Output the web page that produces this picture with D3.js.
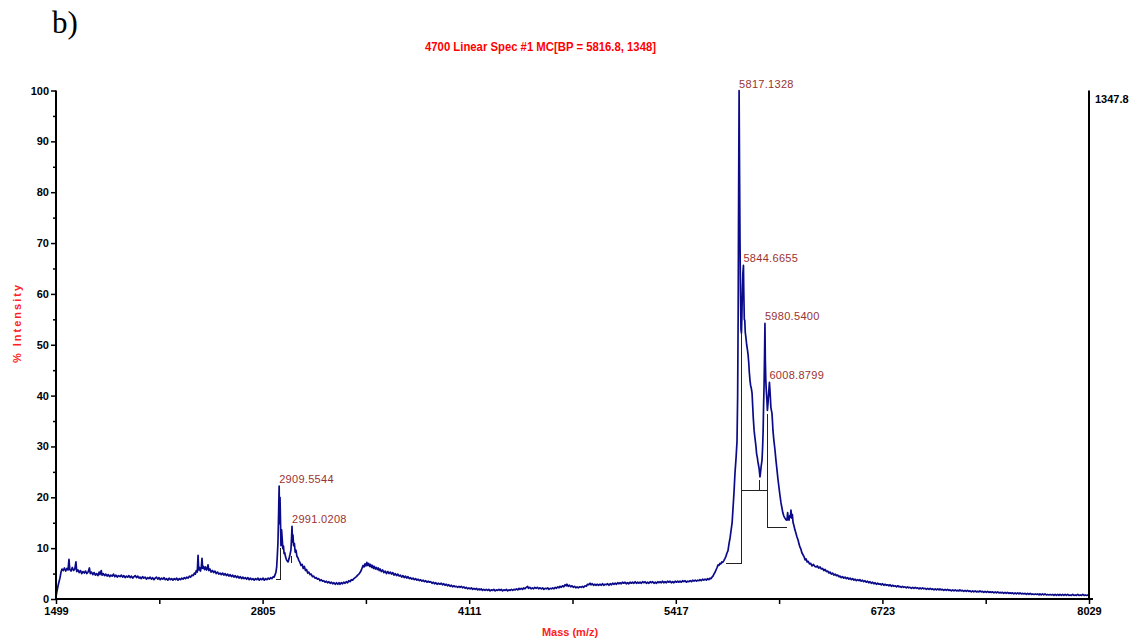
<!DOCTYPE html>
<html>
<head>
<meta charset="utf-8">
<script src="https://cdn.jsdelivr.net/npm/d3@7"></script>
<style>
  html, body { margin: 0; padding: 0; background: #fff; }
  svg { display: block; }
</style>
</head>
<body>
<svg id="chart" width="1137" height="642"></svg>
<script>
// ---- Spectrum: [m/z, % intensity] ----
const lowMassRegion = [
  [1499,0.4],[1505,1.5],[1512,2.6],[1518,3.4],[1524,4.1],[1530,5.2],[1537,5.9],[1545,5.6],[1552,6.1],[1560,5.5],
  [1568,6.0],[1575,5.7],[1581,7.8],[1586,5.8],[1594,5.5],[1602,6.2],[1610,5.6],[1618,5.9],[1625,7.3],[1630,5.4],
  [1638,5.7],[1646,5.2],[1654,5.6],[1662,5.0],[1670,5.4],[1678,5.1],[1686,5.5],[1694,5.0],[1702,5.3],[1710,6.1],
  [1716,5.0],[1724,5.3],[1732,4.8],[1740,5.2],[1748,4.7],[1756,5.0],[1764,4.6],[1772,5.3],[1777,4.8],[1785,5.6],
  [1790,4.7],[1798,5.0],[1806,4.6],[1814,4.9],[1822,4.5],[1830,4.8],[1838,4.4],[1846,4.7],[1854,4.5],[1862,4.9],
  [1870,4.4],[1878,4.7],[1886,4.3],[1894,4.6],[1904,4.4],[1912,4.7],[1920,4.3],[1928,4.6],[1936,4.2],[1944,4.5],
  [1952,4.3],[1960,4.6],[1968,4.2],[1976,4.5],[1984,4.1],[1992,4.4],[2000,4.6],[2008,4.2],[2016,4.5],[2024,4.1],
  [2030,4.3],[2038,4.0],[2046,4.4],[2054,4.1],[2062,4.3],[2070,3.9],[2078,4.2],[2086,4.0],[2094,4.3],[2102,3.9],
  [2110,4.2],[2118,3.8],[2126,4.1],[2134,4.3],[2142,3.9],[2150,4.2],[2158,3.8],[2166,4.1],[2174,3.9],[2182,4.2],
  [2190,3.8],[2198,4.0],[2206,3.7],[2214,4.1],[2222,3.8],[2230,4.0],[2238,3.7],[2246,4.0],[2254,3.8],[2262,4.1],
  [2270,3.7],[2278,4.0],[2286,3.8],[2294,4.1],[2302,3.9],[2310,4.2],[2318,4.0],[2326,4.3],[2334,4.1],[2342,4.5],
  [2350,4.3],[2358,4.7],[2366,4.6],[2374,5.1],[2380,4.9],[2386,5.6],[2392,5.3],[2397,8.6],[2401,5.7],[2406,6.2],
  [2412,5.5],[2418,6.4],[2422,8.0],[2426,6.0],[2432,6.4],[2438,5.8],[2444,6.3],[2450,5.7],[2455,6.0],[2460,6.7],
  [2465,5.6],[2472,5.9],[2480,5.3],[2488,5.6],[2496,5.2],[2504,5.5],[2512,5.0],[2520,5.3],[2528,4.9],[2536,5.1],
  [2544,4.8],[2552,5.1],[2560,4.7],[2568,5.0],[2576,4.6],[2584,4.9],[2592,4.5],[2600,4.8],[2608,4.4],[2616,4.7],
  [2624,4.3],[2632,4.6],[2640,4.2],[2648,4.5],[2656,4.1],[2664,4.4],[2672,4.0],[2680,4.3],[2688,4.0],[2696,4.2],
  [2704,3.9],[2712,4.2],[2720,3.8],[2728,4.1],[2736,3.8],[2744,4.0],[2752,3.7],[2760,4.0],[2768,3.8],[2776,4.1],
  [2784,3.7],[2792,4.0],[2800,3.8],[2808,4.1],[2816,3.7],[2824,4.0],[2832,3.8],[2840,4.1],[2848,3.9],[2856,4.2],
  [2864,4.0],[2872,4.4],[2878,4.3],[2884,4.8],[2889,5.2],[2894,6.3],[2898,8.5],[2902,11.0],[2906,16.5],[2909.6,22.2],
  [2912,14.8],[2915,20.0],[2918,15.5],[2921,10.5],[2925,13.6],[2929,11.8],[2933,9.9],[2937,10.4],[2941,8.9],[2945,9.1],
  [2950,8.3],[2955,7.8],[2960,7.5],[2966,7.3],[2972,7.9],[2978,8.7],[2984,9.6],[2988,12.0],[2991,14.3],[2994,11.2],
  [2997,12.6],[3001,10.5],[3006,10.9],[3011,9.2],[3016,9.6],[3022,8.4],[3028,8.1],[3034,7.6],[3041,7.2],[3048,6.6],
  [3055,6.8],[3062,6.0],[3069,6.4],[3076,5.6],[3083,5.8],[3090,5.1],[3097,5.3],[3105,4.8],[3112,4.9],[3120,4.4],
  [3128,4.5],[3136,4.1],[3144,4.2],[3152,3.9],[3160,4.0],[3168,3.6],[3176,3.8],[3184,3.5],[3192,3.6],[3200,3.3],
  [3208,3.5],[3216,3.2],[3224,3.4],[3232,3.1],[3240,3.3],[3248,3.0],[3256,3.2],[3264,2.9],[3272,3.2],[3280,2.9],
  [3288,3.2],[3294,2.9],[3302,3.2],[3310,3.0],[3318,3.3],[3326,3.1],[3334,3.4],[3342,3.2],[3350,3.6],[3358,3.4],
  [3366,3.8],[3374,3.7],[3382,4.0],[3390,4.2],[3398,4.4],[3406,4.7],[3414,4.9],[3421,5.2],[3428,5.6],[3434,6.1],
  [3440,6.6],[3446,6.3],[3452,6.9],[3458,6.5],[3464,7.2],[3470,6.6],[3476,7.0],[3482,6.4],[3488,6.8],[3494,6.2],
  [3500,6.6],[3506,6.0],[3512,6.4],[3518,5.9],[3524,6.2],[3530,5.8],[3536,6.1],[3542,5.6],[3548,5.9],[3556,5.4],
  [3564,5.7],[3572,5.2],[3580,5.5],[3588,5.0],[3596,5.4],[3604,5.0],[3612,5.3],[3620,4.9],[3628,5.2],[3636,4.7],
  [3644,5.0],[3652,4.6],[3660,4.9],[3668,4.5],[3676,4.7],[3684,4.3],[3692,4.6],[3700,4.2],[3708,4.5],[3716,4.1],
  [3724,4.4],[3732,4.0],[3740,4.2],[3748,3.9],[3756,4.1],[3764,3.8],[3772,4.0],[3780,3.7],[3788,3.9],[3796,3.6]
];

const midRegion = [
  [3804,3.8],[3812,3.5],[3820,3.7],[3828,3.4],[3836,3.6],[3844,3.3],[3852,3.5],[3860,3.3],[3868,3.4],[3876,3.1],
  [3884,3.3],[3892,3.0],[3900,3.2],[3908,2.9],[3916,3.1],[3926,2.9],[3934,3.1],[3942,2.8],[3950,3.0],[3958,2.7],
  [3966,2.9],[3974,2.6],[3982,2.8],[3990,2.5],[3998,2.7],[4006,2.4],[4014,2.6],[4022,2.4],[4030,2.5],[4038,2.3],
  [4046,2.5],[4053,2.3],[4061,2.5],[4069,2.2],[4077,2.4],[4085,2.1],[4093,2.3],[4101,2.0],[4109,2.2],[4117,2.0],
  [4125,2.2],[4133,1.9],[4141,2.1],[4149,1.9],[4157,2.1],[4165,1.8],[4173,2.0],[4179,1.8],[4187,2.0],[4195,1.7],
  [4203,1.9],[4211,1.7],[4219,1.9],[4227,1.7],[4235,1.9],[4243,1.6],[4251,1.8],[4259,1.7],[4267,1.9],[4275,1.6],
  [4283,1.8],[4291,1.7],[4299,1.9],[4306,1.7],[4314,1.9],[4322,1.6],[4330,1.8],[4338,1.7],[4346,1.9],[4354,1.6],
  [4362,1.8],[4370,1.7],[4378,1.9],[4386,1.7],[4394,1.9],[4402,1.8],[4410,2.0],[4418,1.8],[4426,2.1],[4432,1.9],
  [4440,2.1],[4448,1.9],[4456,2.2],[4464,2.0],[4472,2.3],[4480,2.5],[4486,2.1],[4494,2.3],[4502,2.0],[4510,2.2],
  [4518,2.0],[4526,2.3],[4534,2.1],[4542,2.3],[4550,2.0],[4559,2.2],[4567,2.0],[4575,2.2],[4583,1.9],[4591,2.1],
  [4599,2.0],[4607,2.2],[4615,1.9],[4623,2.1],[4631,2.0],[4639,2.2],[4647,2.0],[4655,2.3],[4663,2.1],[4671,2.4],
  [4679,2.2],[4685,2.5],[4693,2.3],[4701,2.6],[4709,2.4],[4717,2.8],[4725,2.6],[4729,2.9],[4737,2.5],[4745,2.7],
  [4753,2.4],[4761,2.6],[4769,2.3],[4777,2.5],[4785,2.2],[4793,2.4],[4801,2.2],[4811,2.4],[4819,2.3],[4827,2.5],
  [4835,2.3],[4843,2.6],[4851,2.5],[4859,2.9],[4867,2.8],[4875,3.1],[4881,2.8],[4889,3.0],[4897,2.7],[4905,2.9],
  [4913,2.7],[4921,2.9],[4929,2.7],[4938,2.9],[4946,2.7],[4954,3.0],[4962,2.7],[4970,2.9],[4978,2.8],[4986,3.0],
  [4994,2.7],[5002,3.0],[5010,2.8],[5018,3.1],[5026,2.9],[5034,3.1],[5042,2.9],[5050,3.2],[5058,3.0],[5064,3.2],
  [5072,3.0],[5080,3.3],[5088,3.1],[5096,3.3],[5104,3.0],[5112,3.2],[5120,3.0],[5128,3.3],[5136,3.1],[5144,3.3],
  [5152,3.1],[5160,3.4],[5168,3.1],[5176,3.3],[5184,3.1],[5191,3.3],[5199,3.1],[5207,3.4],[5215,3.2],[5223,3.4],
  [5231,3.1],[5239,3.3],[5247,3.1],[5255,3.4],[5263,3.2],[5271,3.4],[5279,3.1],[5287,3.3],[5295,3.1],[5303,3.4],
  [5311,3.2],[5317,3.4],[5325,3.2],[5333,3.5],[5341,3.2],[5349,3.4],[5357,3.2],[5365,3.5],[5373,3.3],[5381,3.5],
  [5389,3.2],[5397,3.4],[5405,3.2],[5413,3.5],[5421,3.3],[5429,3.5],[5437,3.3],[5444,3.5],[5452,3.3],[5460,3.6],
  [5468,3.4],[5476,3.6],[5484,3.3],[5492,3.5],[5500,3.4],[5508,3.6],[5516,3.4],[5524,3.7],[5532,3.5],[5540,3.7],
  [5548,3.5],[5556,3.7],[5564,3.6],[5570,3.8],[5578,3.6],[5586,3.9],[5594,3.7],[5602,3.9],[5610,3.7],[5618,4.0],
  [5626,3.8],[5634,4.1],[5640,4.0]
];

const mainCluster = [
  [5646,4.3],[5652,4.5],[5658,4.9],[5664,5.2],[5671,5.7],[5678,6.2],[5684,6.7],[5690,6.6],[5696,7.0],[5702,6.9],
  [5708,7.3],[5714,7.2],[5720,7.5],[5728,8.0],[5734,8.4],[5740,9.0],[5747,9.5],[5754,11.0],[5760,12.0],[5766,13.4],
  [5773,15.0],[5779,18.0],[5785,21.0],[5791,24.7],[5798,27.8],[5804,31.0],[5808,40],[5811,55],[5814,78],[5817.13,100],
  [5820,84],[5823,70],[5826,60],[5829,53],[5832,52.3],[5835,56],[5838,61],[5841,64],[5844.67,65.6],[5847,60],
  [5850,55],[5853,54.8],[5856,52.5],[5860,51.5],[5865,50],[5870,49],[5874,48],[5878,46.5],[5882,44.5],[5886,43],
  [5890,42],[5894,41.5],[5899,40.5],[5903,38],[5907,35.5],[5912,33.2],[5916,32],[5920,31],[5924,29.9],[5928,28.5],
  [5932,27.9],[5936,27],[5940,26.3],[5944,25.6],[5949,24],[5953,25],[5957,26.2],[5962,27.3],[5966,30],[5969,33],
  [5972,38],[5975,42],[5978,48],[5980.54,54.2],[5983,47],[5986,43],[5989,41],[5993,39],[5996,37.1],[6000,38.5],
  [6004,40.5],[6008.88,42.6],[6012,41.2],[6015,39.5],[6018,37.7],[6022,37],[6025,36.5],[6028,35],[6031,33.2],[6037,31.2],
  [6044,29.3],[6050,27.3],[6057,25.3],[6063,23.5],[6069,22],[6075,20.5],[6082,18.9],[6088,17.9],[6094,16.9],[6100,16.3],
  [6107,15.9],[6113,15.6],[6120,15.5],[6124,17.0],[6128,15.8],[6133,15.5],[6138,16.4],[6142,16.1],[6145,17.5],[6150,15.9],
  [6154,16.6],[6158,15.1],[6164,14.4],[6170,13.6],[6177,12.9],[6183,12.2],[6190,11.6],[6196,10.8],[6202,10.2],[6208,9.8],
  [6214,9.1],[6221,8.7],[6228,8.3],[6234,7.7],[6240,7.9],[6247,7.3],[6254,7.4],[6262,6.9],[6270,7.0],[6278,6.5],
  [6286,6.8]
];

const highMassTail = [
  [6297,6.4],[6304,6.3],[6312,6.5],[6320,6.1],[6329,6.3],[6337,5.9],[6345,6.0],[6353,5.6],[6361,5.8],[6369,5.4],
  [6377,5.5],[6385,5.1],[6392,5.3],[6400,4.9],[6408,5.1],[6416,4.7],[6424,4.9],[6432,4.6],[6440,4.7],[6448,4.4],
  [6455,4.5],[6463,4.2],[6471,4.4],[6479,4.1],[6487,4.3],[6495,4.0],[6503,4.2],[6511,3.9],[6519,4.1],[6527,3.8],
  [6535,4.0],[6543,3.7],[6551,3.9],[6559,3.6],[6567,3.8],[6575,3.6],[6581,3.8],[6589,3.5],[6597,3.7],[6605,3.4],
  [6613,3.6],[6621,3.3],[6629,3.5],[6637,3.2],[6645,3.4],[6653,3.1],[6661,3.3],[6669,3.0],[6677,3.2],[6685,2.9],
  [6693,3.1],[6701,2.9],[6708,3.0],[6716,2.8],[6724,3.0],[6732,2.7],[6740,2.9],[6748,2.7],[6756,2.8],[6764,2.6],
  [6772,2.8],[6780,2.5],[6788,2.7],[6796,2.5],[6804,2.6],[6812,2.4],[6820,2.6],[6828,2.4],[6834,2.5],[6842,2.3],
  [6850,2.5],[6858,2.3],[6866,2.4],[6874,2.2],[6882,2.4],[6890,2.2],[6898,2.3],[6906,2.1],[6914,2.3],[6922,2.1],
  [6930,2.3],[6938,2.1],[6946,2.2],[6954,2.0],[6961,2.2],[6969,2.0],[6977,2.2],[6985,2.0],[6993,2.1],[7001,1.9],
  [7009,2.1],[7017,1.9],[7025,2.1],[7033,1.9],[7041,2.0],[7049,1.8],[7057,2.0],[7065,1.8],[7073,2.0],[7081,1.8],
  [7087,2.0],[7095,1.8],[7103,1.9],[7111,1.7],[7119,1.9],[7127,1.7],[7135,1.9],[7143,1.7],[7151,1.8],[7159,1.6],
  [7167,1.8],[7175,1.6],[7183,1.8],[7191,1.6],[7199,1.7],[7207,1.6],[7213,1.8],[7221,1.6],[7229,1.7],[7237,1.5],
  [7245,1.7],[7253,1.5],[7261,1.7],[7269,1.5],[7277,1.6],[7285,1.4],[7293,1.6],[7301,1.4],[7309,1.6],[7317,1.4],
  [7325,1.5],[7333,1.4],[7340,1.6],[7348,1.4],[7356,1.5],[7364,1.3],[7372,1.5],[7380,1.3],[7388,1.5],[7396,1.3],
  [7404,1.4],[7412,1.3],[7420,1.4],[7428,1.2],[7436,1.4],[7444,1.2],[7452,1.4],[7460,1.2],[7466,1.3],[7474,1.2],
  [7482,1.3],[7490,1.1],[7498,1.3],[7506,1.1],[7514,1.3],[7522,1.1],[7530,1.2],[7538,1.1],[7546,1.2],[7554,1.0],
  [7562,1.2],[7570,1.0],[7578,1.2],[7586,1.0],[7593,1.2],[7601,1.0],[7609,1.1],[7617,1.0],[7625,1.1],[7633,0.9],
  [7641,1.1],[7649,0.9],[7657,1.1],[7665,0.9],[7673,1.0],[7681,0.9],[7689,1.0],[7697,0.9],[7705,1.0],[7713,0.8],
  [7719,1.0],[7727,0.8],[7735,1.0],[7743,0.8],[7751,1.0],[7759,0.8],[7767,0.9],[7775,0.8],[7783,0.9],[7791,0.8],
  [7799,0.9],[7807,0.7],[7815,0.9],[7823,0.7],[7831,0.9],[7839,0.7],[7846,0.9],[7854,0.7],[7862,0.9],[7870,0.7],
  [7878,0.9],[7886,0.7],[7894,0.9],[7902,0.7],[7910,0.8],[7918,0.7],[7926,0.9],[7934,0.7],[7942,0.8],[7950,0.7],
  [7958,0.9],[7966,0.7],[7974,0.8],[7982,0.7],[7990,0.9],[7998,0.7],[8006,0.8],[8014,0.7],[8022,0.8],[8029,0.8]
];

// ---- Labelled peaks ----
const peakMz     = [2909.5544, 2991.0208, 5817.1328, 5844.6655, 5980.5400, 6008.8799];
const peakPct    = [22.2, 14.3, 100, 65.6, 54.2, 42.6];
const peakLabels = ["2909.5544", "2991.0208", "5817.1328", "5844.6655", "5980.5400", "6008.8799"];

// ---- Peak integration brackets: polylines of [m/z, %] ----
const integrationMarks = [
  [[2890, 3.9], [2918, 3.9], [2918, 10.0]],
  [[2985, 7.0], [2985, 8.4]],
  [[5732, 6.9], [5834, 6.9], [5834, 52.3]],
  [[5834, 21.4], [5996, 21.4]],
  [[5949, 21.4], [5949, 23.4]],
  [[5996, 36.4], [5996, 14.0], [6122, 14.0]]
];

// ---- Axes ----
const massTicks = [1499, 2152, 2805, 3458, 4111, 4764, 5417, 6070, 6723, 7376, 8029];
const massTickLabels = ["1499", "", "2805", "", "4111", "", "5417", "", "6723", "", "8029"];
const intensityTicks = [0, 5, 10, 15, 20, 25, 30, 35, 40, 45, 50, 55, 60, 65, 70, 75, 80, 85, 90, 95, 100];
const titleText = "4700 Linear Spec #1 MC[BP = 5816.8, 1348]";
const absoluteMax = "1347.8";

const spectrum = lowMassRegion.concat(midRegion, mainCluster, highMassTail);

const svg = d3.select("#chart");
const plotL = 56, plotR = 1089, plotT = 90.5, plotB = 599;

const x = d3.scaleLinear().domain([1499, 8029]).range([plotL, plotR]);
const y = d3.scaleLinear().domain([0, 100]).range([plotB, plotT]);

const sans = "'Liberation Sans', Arial, Helvetica, sans-serif";

// panel letter
svg.append("text")
  .attr("x", 52).attr("y", 33)
  .attr("font-family", "'Liberation Serif', 'Times New Roman', serif")
  .attr("font-size", 31)
  .attr("fill", "#000")
  .text("b)");

// title
svg.append("text")
  .attr("x", 540.5).attr("y", 51)
  .attr("text-anchor", "middle")
  .attr("font-family", sans)
  .attr("font-weight", "bold")
  .attr("font-size", 13)
  .attr("textLength", 231)
  .attr("lengthAdjust", "spacingAndGlyphs")
  .attr("fill", "#ff0000")
  .text(titleText);

// spectrum trace
const line = d3.line().x(d => x(d[0])).y(d => y(d[1]));
svg.append("path")
  .datum(spectrum)
  .attr("d", line)
  .attr("fill", "none")
  .attr("stroke", "#0b0b8a")
  .attr("stroke-width", 1.7)
  .attr("stroke-linejoin", "round");

// integration brackets
svg.append("g").selectAll("path")
  .data(integrationMarks)
  .join("path")
  .attr("d", d3.line().x(d => x(d[0])).y(d => y(d[1])))
  .attr("fill", "none")
  .attr("stroke", "#222")
  .attr("stroke-width", 1)
  .attr("shape-rendering", "crispEdges");

// peak labels
svg.append("g").selectAll("text")
  .data(peakMz.map((m, i) => ({ m, p: peakPct[i], t: peakLabels[i] })))
  .join("text")
  .attr("x", d => x(d.m))
  .attr("y", d => y(d.p) - 3)
  .attr("font-family", sans)
  .attr("font-size", 11)
  .attr("letter-spacing", 0.3)
  .attr("fill", "#993333")
  .text(d => d.t);

// x axis
const xAxis = d3.axisBottom(x)
  .tickValues(massTicks)
  .tickFormat((d, i) => massTickLabels[i])
  .tickSize(5).tickPadding(3);
const gx = svg.append("g").attr("transform", `translate(0,${plotB})`).call(xAxis);
gx.select(".domain").attr("d", `M${plotL},0H${plotR + 4}`).attr("stroke-width", 2);
gx.selectAll(".tick line").attr("stroke-width", 1.5);
gx.selectAll("text").attr("font-family", sans).attr("font-weight", "bold").attr("font-size", 11).attr("fill", "#000");

// y axis
const yAxis = d3.axisLeft(y)
  .tickValues(intensityTicks)
  .tickFormat(d => d % 10 === 0 ? d : "")
  .tickSize(5).tickPadding(2);
const gy = svg.append("g").attr("transform", `translate(${plotL},0)`).call(yAxis);
gy.select(".domain").attr("d", `M0,${plotT}V${plotB}`).attr("stroke-width", 2);
gy.selectAll(".tick line").attr("stroke-width", 1.5).attr("x2", d => d % 10 === 0 ? -5 : -3);
gy.selectAll("text").attr("font-family", sans).attr("font-weight", "bold").attr("font-size", 11).attr("fill", "#000");

// right axis (absolute intensity scale)
svg.append("line")
  .attr("x1", plotR).attr("x2", plotR)
  .attr("y1", y(100)).attr("y2", plotB)
  .attr("stroke", "#000").attr("stroke-width", 2);
svg.append("text")
  .attr("x", plotR + 6).attr("y", y(100) + 12)
  .attr("font-family", sans).attr("font-weight", "bold").attr("font-size", 11)
  .attr("fill", "#000")
  .text(absoluteMax);

// axis titles
svg.append("text")
  .attr("x", 570).attr("y", 636)
  .attr("text-anchor", "middle")
  .attr("font-family", sans).attr("font-weight", "bold").attr("font-size", 11)
  .attr("fill", "#ff2020")
  .text("Mass (m/z)");

svg.append("text")
  .attr("transform", "translate(21,323) rotate(-90)")
  .attr("text-anchor", "middle")
  .attr("font-family", sans).attr("font-weight", "bold").attr("font-size", 11)
  .attr("letter-spacing", 2)
  .attr("fill", "#ff2020")
  .text("% Intensity");
</script>
</body>
</html>
